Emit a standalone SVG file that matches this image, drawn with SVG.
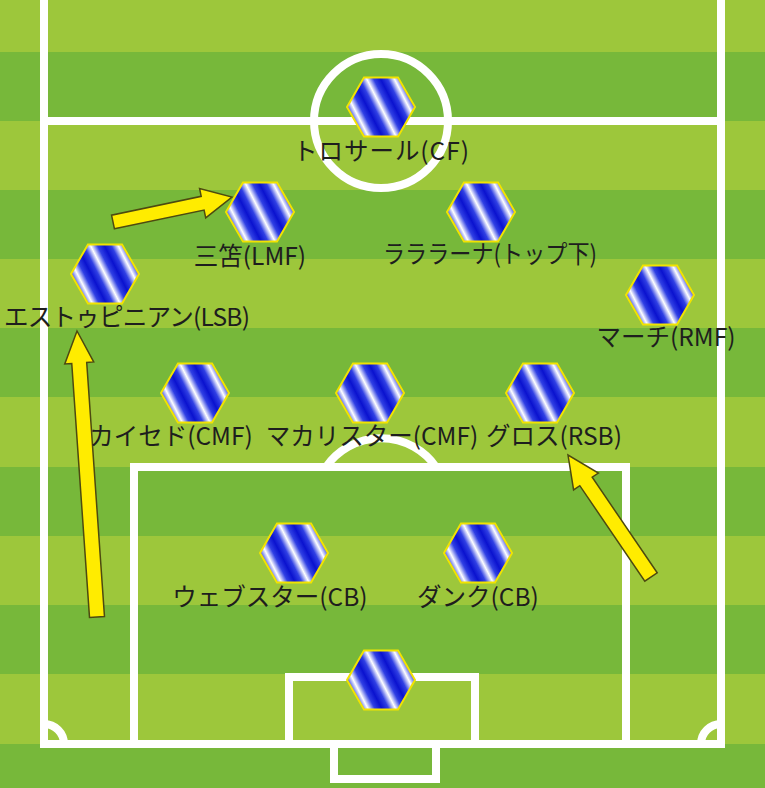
<svg xmlns="http://www.w3.org/2000/svg" xmlns:xlink="http://www.w3.org/1999/xlink" width="765" height="788" viewBox="0 0 765 788">
<style>
.light{fill:#9dc73b}
.dark{fill:#77b83a}
.line{fill:none;stroke:#ffffff;stroke-width:8}
.arrow{fill:#ffec00;stroke:#4d4a10;stroke-width:1.5;stroke-linejoin:miter}
.hex{fill:url(#stripe);stroke:#f2e300;stroke-width:2}
.lbl{font-family:"Noto Sans CJK JP","Noto Sans",sans-serif;font-size:24.5px;fill:#1e1e1e;text-anchor:middle}
</style>
<defs>
<linearGradient id="stripe" x1="0.5" y1="0.5" x2="0.67" y2="0.425" spreadMethod="reflect">
<stop offset="0" stop-color="#ffffff"/>
<stop offset="0.5" stop-color="#3040e4"/>
<stop offset="1" stop-color="#0a12cf"/>
</linearGradient>
<polygon id="hexshape" class="hex" points="-34,0 -17,-29.5 17,-29.5 34,0 17,29.5 -17,29.5"/>
</defs>
<g id="pitch">
<rect class="light" x="0" y="0" width="765" height="788"/>
<rect class="dark" x="0" y="52" width="765" height="69"/>
<rect class="dark" x="0" y="190" width="765" height="69"/>
<rect class="dark" x="0" y="328" width="765" height="69"/>
<rect class="dark" x="0" y="467" width="765" height="69"/>
<rect class="dark" x="0" y="605" width="765" height="69"/>
<rect class="dark" x="0" y="744" width="765" height="44"/>
<line class="line" x1="44" y1="0" x2="44" y2="748"/>
<line class="line" x1="721" y1="0" x2="721" y2="748"/>
<line class="line" x1="40" y1="121" x2="725" y2="121"/>
<line class="line" x1="40" y1="744" x2="725" y2="744"/>
<circle class="line" cx="381" cy="121" r="67"/>
<rect class="line" x="134" y="467" width="492" height="277"/>
<path class="line" d="M326,467 A67,67 0 0 1 436,467"/>
<rect class="line" x="289" y="677" width="186" height="67"/>
<rect class="line" x="334" y="744" width="102" height="35"/>
<path class="line" d="M44,724 A20,20 0 0 1 64,744"/>
<path class="line" d="M701,744 A20,20 0 0 1 721,724"/>
</g>
<g id="connectors">
<polygon class="arrow" points="114.44,228.85 204.08,210.02 205.72,217.85 232,197 199.56,188.49 201.2,196.32 111.56,215.15"/>
<polygon class="arrow" points="104.48,616.48 86.71,362.4 93.7,361.91 77,331 64.76,363.93 71.75,363.44 89.52,617.52"/>
<polygon class="arrow" points="657.2,572.78 592.2,477.24 598.4,473.02 568,455 573.6,489.9 579.8,485.68 644.8,581.22"/>
</g>
<g id="cf"><use xlink:href="#hexshape" x="381" y="107"/><text class="lbl" x="381" y="160" textLength="176">トロサール(CF)</text></g>
<g id="lmf"><use xlink:href="#hexshape" x="260" y="212"/><text class="lbl" x="250" y="265">三笘(LMF)</text></g>
<g id="top"><use xlink:href="#hexshape" x="481" y="212"/><text class="lbl" x="490" y="263" textLength="214" lengthAdjust="spacingAndGlyphs">ラララーナ(トップ下)</text></g>
<g id="lsb"><use xlink:href="#hexshape" x="105" y="274"/><text class="lbl" x="127" y="326" textLength="246">エストゥピニアン(LSB)</text></g>
<g id="rmf"><use xlink:href="#hexshape" x="660" y="295"/><text class="lbl" x="666" y="346">マーチ(RMF)</text></g>
<g id="cmf1"><use xlink:href="#hexshape" x="195" y="393"/><text class="lbl" x="171" y="445">カイセド(CMF)</text></g>
<g id="cmf2"><use xlink:href="#hexshape" x="370" y="393"/><text class="lbl" x="372" y="445">マカリスター(CMF)</text></g>
<g id="rsb"><use xlink:href="#hexshape" x="540" y="393"/><text class="lbl" x="554" y="445">グロス(RSB)</text></g>
<g id="cb1"><use xlink:href="#hexshape" x="294" y="553"/><text class="lbl" x="270" y="606">ウェブスター(CB)</text></g>
<g id="cb2"><use xlink:href="#hexshape" x="478" y="553"/><text class="lbl" x="478" y="606">ダンク(CB)</text></g>
<g id="gk"><use xlink:href="#hexshape" x="381" y="680"/></g>
</svg>
